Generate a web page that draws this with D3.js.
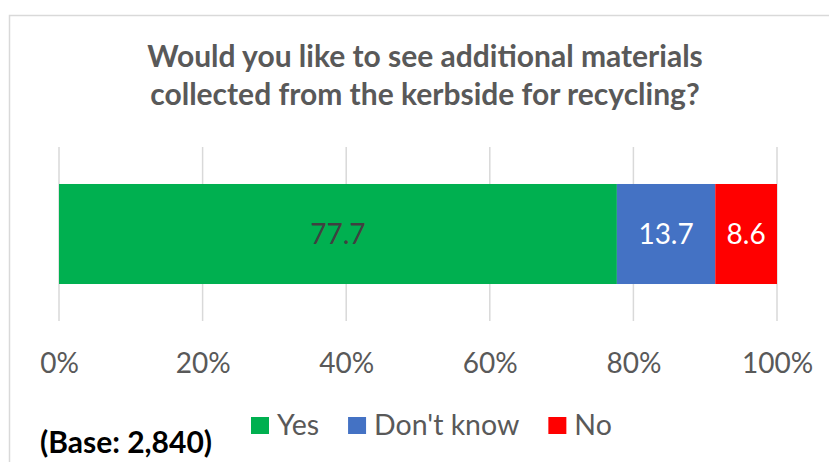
<!DOCTYPE html>
<html>
<head>
<meta charset="utf-8">
<script src="https://cdn.jsdelivr.net/npm/d3@7"></script>
<style>
  body { margin: 0; background: #fff; }
  svg { display: block; }
  text { font-family: Lato, "Open Sans", sans-serif; }
</style>
</head>
<body>
<svg id="chart" width="829" height="462"></svg>
<script>
// Chart data
var titleLines = ["Would you like to see additional materials", "collected from the kerbside for recycling?"];
var categories = ["Yes", "Don't know", "No"];
var values = [77.7, 13.7, 8.6];
var colors = ["#00B050", "#4472C4", "#FF0000"];
var labelColors = ["#404040", "#ffffff", "#ffffff"];
var tickValues = [0, 20, 40, 60, 80, 100];
var baseNote = "(Base: 2,840)";

var svg = d3.select("#chart");

// Outer frame (only left and top edge are visible)
svg.append("rect")
    .attr("x", 9.5).attr("y", 15.5)
    .attr("width", 840).attr("height", 470)
    .attr("fill", "#fff")
    .attr("stroke", "#d9d9d9")
    .attr("stroke-width", 1.5);

// Title
var title = svg.append("text")
    .attr("text-anchor", "middle")
    .attr("font-weight", "bold")
    .attr("font-size", 30)
    .attr("fill", "#595959");
titleLines.forEach(function (line, i) {
    title.append("tspan")
        .attr("x", 425)
        .attr("y", 67 + i * 38)
        .text(line);
});

// Scales
var x = d3.scaleLinear().domain([0, 100]).range([59, 777]);
var y = d3.scaleBand().domain(["all"]).range([147, 321]).padding(0.27);

// Gridlines
svg.append("g").selectAll("line")
    .data(tickValues)
    .enter()
    .append("line")
    .attr("x1", function (d) { return x(d); })
    .attr("x2", function (d) { return x(d); })
    .attr("y1", 147)
    .attr("y2", 321)
    .attr("stroke", "#d9d9d9")
    .attr("stroke-width", 1.5);

// Stacked segments
var stacked = [];
var acc = 0;
values.forEach(function (v, i) {
    stacked.push({ name: categories[i], value: v, x0: acc, x1: acc + v, color: colors[i], labelColor: labelColors[i] });
    acc += v;
});

var seg = svg.append("g").selectAll("g")
    .data(stacked)
    .enter()
    .append("g");
seg.append("rect")
    .attr("x", function (d) { return x(d.x0); })
    .attr("y", y("all"))
    .attr("width", function (d) { return x(d.x1) - x(d.x0); })
    .attr("height", y.bandwidth())
    .attr("fill", function (d) { return d.color; });
seg.append("text")
    .attr("x", function (d) { return (x(d.x0) + x(d.x1)) / 2; })
    .attr("y", y("all") + y.bandwidth() / 2 + 10)
    .attr("text-anchor", "middle")
    .attr("font-size", 28)
    .attr("fill", function (d) { return d.labelColor; })
    .text(function (d) { return d.value.toFixed(1); });

// X axis labels
var axis = svg.append("g")
    .attr("transform", "translate(0,346)")
    .call(d3.axisBottom(x).tickValues(tickValues).tickSize(0).tickPadding(0)
        .tickFormat(function (d) { return d + "%"; }));
axis.select(".domain").remove();
axis.selectAll("text")
    .attr("dy", null)
    .attr("y", 27)
    .attr("font-size", 28)
    .attr("font-family", "Lato, 'Open Sans', sans-serif")
    .attr("fill", "#595959");

// Legend
var legend = svg.append("g");
var lx = 251;
stacked.forEach(function (d) {
    legend.append("rect")
        .attr("x", lx).attr("y", 417)
        .attr("width", 18).attr("height", 17)
        .attr("fill", d.color);
    var t = legend.append("text")
        .attr("x", lx + 26)
        .attr("y", 435)
        .attr("font-size", 28.5)
        .attr("fill", "#595959")
        .text(d.name);
    lx += 26 + t.node().getComputedTextLength() + 29;
});

// Base note
svg.append("text")
    .attr("x", 40)
    .attr("y", 453)
    .attr("font-weight", "bold")
    .attr("font-size", 30)
    .attr("fill", "#000")
    .text(baseNote);
</script>
</body>
</html>
